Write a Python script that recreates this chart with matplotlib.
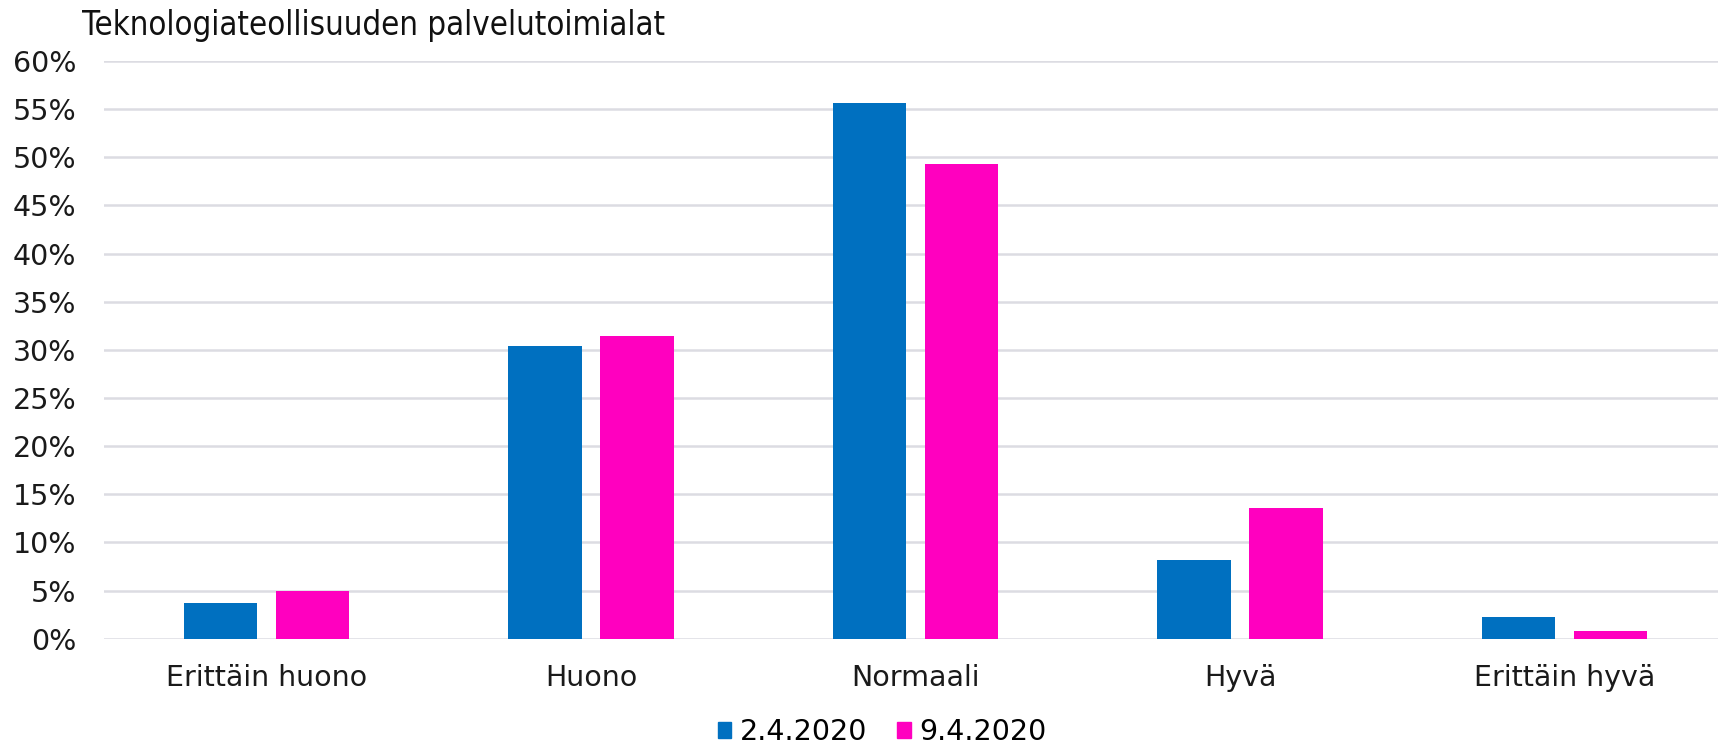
import numpy as np
import matplotlib.pyplot as plt
from matplotlib.patches import Patch
from matplotlib.ticker import PercentFormatter

# data
categories = ["Erittäin huono", "Huono", "Normaali", "Hyvä", "Erittäin hyvä"]
series_names = ["2.4.2020", "9.4.2020"]
values_0204 = [3.7, 30.4, 55.6, 8.2, 2.3]
values_0904 = [5.0, 31.4, 49.3, 13.6, 0.8]
colors = ["#0070C0", "#FF00BF"]

plt.rcParams['font.family'] = ['DejaVu Sans']

fig = plt.figure(figsize=(17.18, 7.45), dpi=100)
# plot area runs a bit past the right edge, as in the original
ax = fig.add_axes([104/1718, 1 - 638.7/745, 1623/1718, (638.7 - 61)/745])

x = np.arange(len(categories))
w = 0.226
gap = 0.057
ax.bar(x - (w + gap)/2, np.array(values_0204)/100, w, color=colors[0], zorder=3)
ax.bar(x + (w + gap)/2, np.array(values_0904)/100, w, color=colors[1], zorder=3)

ax.set_ylim(0, 0.6)
ax.set_xlim(-0.5, len(categories) - 0.5)
ax.set_yticks(np.arange(0, 0.61, 0.05))
ax.yaxis.set_major_formatter(PercentFormatter(1.0, decimals=0))
ax.set_xticks(x)
ax.set_xticklabels(categories)
ax.tick_params(axis='both', length=0, labelsize=20.5, labelcolor='#1a1a1a')
ax.tick_params(axis='y', pad=20)
ax.tick_params(axis='x', pad=18.5)
ax.grid(axis='y', color='#DCDCE2', linewidth=1.8, zorder=0)
for s in ax.spines.values():
    s.set_visible(False)

fig.text(82/1718, 1 - 35/745, "Teknologiateollisuuden palvelutoimialat",
         fontsize=23.7, fontstretch='condensed', ha='left', va='baseline',
         color='#111111')

handles = [Patch(color=c) for c in colors]
fig.legend(handles, series_names, loc='center', ncol=2, frameon=False,
           bbox_to_anchor=(882/1718, 1 - 732/745), fontsize=20.5,
           handlelength=0.48, handleheight=0.48, handletextpad=0.3,
           columnspacing=1.05)

fig.savefig("out.png", dpi=100)
